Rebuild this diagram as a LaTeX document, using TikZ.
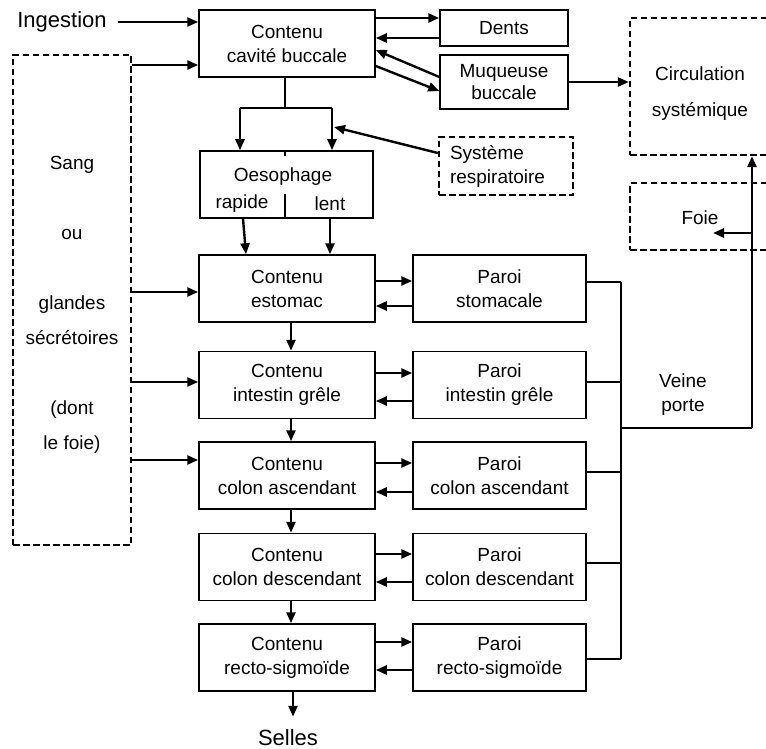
\documentclass[tikz,border=0pt]{standalone}
\usepackage{fontspec}
\setmainfont{Liberation Sans}
\usetikzlibrary{arrows.meta}
\begin{document}
\begin{tikzpicture}[x=1pt,y=-1pt,
  txt/.style={font=\fontsize{19}{24}\selectfont, align=center, inner sep=0pt},
  box/.style={txt, draw, line width=1.5pt, minimum height=67pt},
  cbox/.style={box, minimum width=176pt},
  pbox/.style={box, minimum width=173pt},
  dbox/.style={draw, line width=2.3pt, dash pattern=on 6.5pt off 3.5pt, inner sep=0pt},
  arr/.style={line width=2.4pt, -{Triangle[length=11pt,width=9pt]}},
  ln/.style={line width=1.5pt},
  big/.style={font=\fontsize{22}{26}\selectfont, inner sep=0pt}]
\useasboundingbox (0,0) rectangle (766,749);
\clip (0,0) rectangle (766,749);
\fill[white] (0,0) rectangle (766,749);

% top
\node[big] (ing) at (62,22) {Ingestion};
\node[cbox] (cav) at (287,43.5) {Contenu\\cavité buccale};
\node[box, minimum width=128pt, minimum height=36pt] (dents) at (504,28) {Dents};
\node[box, minimum width=128pt, minimum height=54pt, font=\fontsize{19}{22}\selectfont] (muq) at (504,82) {Muqueuse\\buccale};
\node[dbox, minimum width=160pt, minimum height=137pt] (circ) at (710,86.5) {};
\node[txt, font=\fontsize{19}{36}\selectfont] (circt) at (700,94) {Circulation\\systémique};
\node[dbox, txt, text width=112pt, align=left, inner xsep=11pt, minimum height=58pt] (resp) at (506,166) {Système\\respiratoire};
\node[dbox, minimum width=160pt, minimum height=67pt] (foie) at (710,216.5) {};
\node[txt] (foiet) at (700,218) {Foie};

% left
\node[dbox, minimum width=118pt, minimum height=490pt] (sang) at (72,300) {};
\node[txt, font=\fontsize{19}{35}\selectfont] (sangt) at (72,305) {Sang\\[35pt]ou\\[35pt]glandes\\sécrétoires\\[35pt](dont\\le foie)};

% oesophagus
\node[box, minimum width=173pt] (oes) at (286.5,184.5) {};
\node[txt] (oest) at (283,177) {Oesophage};
\node[txt] (rap) at (242,204) {rapide};
\node[txt] (lent) at (330,204) {lent};

% contents
\node[cbox] (c1) at (287,288.5) {Contenu\\estomac};
\node[cbox] (c2) at (287,385) {Contenu\\intestin grêle};
\node[cbox] (c3) at (287,475.5) {Contenu\\colon ascendant};
\node[cbox] (c4) at (287,567) {Contenu\\colon descendant};
\node[cbox] (c5) at (287,657.5) {Contenu\\recto-sigmoïde};

% walls
\node[pbox] (p1) at (499.5,288.5) {Paroi\\stomacale};
\node[pbox] (p2) at (499.5,385) {Paroi\\intestin grêle};
\node[pbox] (p3) at (499.5,475.5) {Paroi\\colon ascendant};
\node[pbox] (p4) at (499.5,567) {Paroi\\colon descendant};
\node[pbox] (p5) at (499.5,657.5) {Paroi\\recto-sigmoïde};

\node[txt] (vp) at (683,395) {Veine\\porte};
\node[big] (sel) at (288,738) {Selles};

% ingestion and blood
\draw[arr] ([xshift=11pt]ing.east) -- (cav.west |- ing.east);
\coordinate (a0) at ([yshift=-21.5pt]cav.west);
\coordinate (a1) at ([yshift=-3.5pt]c1.west);
\coordinate (a2) at ([yshift=3pt]c2.west);
\coordinate (a3) at ([yshift=15.5pt]c3.west);
\draw[arr] (sang.east |- a0) -- (a0);
\draw[arr] (sang.east |- a1) -- (a1);
\draw[arr] (sang.east |- a2) -- (a2);
\draw[arr] (sang.east |- a3) -- (a3);

% mouth exchanges
\coordinate (dy1) at ([yshift=10pt]dents.west);
\coordinate (dy2) at ([yshift=-10pt]dents.west);
\draw[arr] (cav.east |- dy1) -- (dy1);
\draw[arr] (dy2) -- (cav.east |- dy2);
\draw[arr] ([yshift=5pt]muq.west) -- ([yshift=-6.5pt]cav.east);
\draw[arr] ([yshift=-22.5pt]cav.east) -- ([yshift=-9pt]muq.west);
\draw[arr] (muq.east) -- (muq.east -| circ.west);

% to oesophagus
\coordinate (tj) at (285,108);
\coordinate (tl) at (240,108);
\coordinate (tr) at (332,108);
\coordinate (rb) at (334,127);
\draw[ln] (cav.south -| tj) -- (tj);
\draw[ln] (tl) -- (tr);
\draw[arr] (tl) -- (tl |- oes.north);
\draw[arr] (tr) -- (tr |- oes.north);
\draw[arr] ([yshift=13pt]resp.west) -- (rb);
\draw[ln] ([xshift=-1.5pt]oes.south) -- ([xshift=-1.5pt,yshift=25pt]oes.south);
\draw[ln] ([xshift=-1.5pt]oes.north) -- ([xshift=-1.5pt,yshift=-6pt]oes.north);
\draw[arr] ([xshift=-43.5pt]oes.south) -- ([xshift=-41pt]c1.north);
\draw[arr] ([xshift=43.5pt]oes.south) -- ([xshift=43pt]c1.north);

% down the tract
\draw[arr] ([xshift=4pt]c1.south) -- ([xshift=4pt]c2.north);
\draw[arr] ([xshift=4pt]c2.south) -- ([xshift=4pt]c3.north);
\draw[arr] ([xshift=4pt]c3.south) -- ([xshift=4pt]c4.north);
\draw[arr] ([xshift=4pt]c4.south) -- ([xshift=4pt]c5.north);
\coordinate (selin) at ([xshift=6pt,yshift=-25pt]c5.south);
\draw[arr] ([xshift=6pt]c5.south) -- (selin);

% content <-> wall
\draw[arr] ([yshift=7.5pt]c1.east) -- ([yshift=7.5pt]p1.west);
\draw[arr] ([yshift=-17.5pt]p1.west) -- ([yshift=-17.5pt]c1.east);
\draw[arr] ([yshift=12pt]c2.east) -- ([yshift=12pt]p2.west);
\draw[arr] ([yshift=-16pt]p2.west) -- ([yshift=-16pt]c2.east);
\draw[arr] ([yshift=12.5pt]c3.east) -- ([yshift=12.5pt]p3.west);
\draw[arr] ([yshift=-16.5pt]p3.west) -- ([yshift=-16.5pt]c3.east);
\draw[arr] ([yshift=13pt]c4.east) -- ([yshift=13pt]p4.west);
\draw[arr] ([yshift=-15pt]p4.west) -- ([yshift=-15pt]c4.east);
\draw[arr] ([yshift=15.5pt]c5.east) -- ([yshift=15.5pt]p5.west);
\draw[arr] ([yshift=-12.5pt]p5.west) -- ([yshift=-12.5pt]c5.east);

% portal vein
\coordinate (colx) at (621,428);
\coordinate (vc) at (752,428);
\coordinate (t1) at ([yshift=6.5pt]p1.east);
\coordinate (t2) at ([yshift=3pt]p2.east);
\coordinate (t3) at ([yshift=3.5pt]p3.east);
\coordinate (t4) at ([yshift=4pt]p4.east);
\coordinate (t5) at ([yshift=-1.5pt]p5.east);
\draw[ln] (t1) -- (t1 -| colx);
\draw[ln] (t2) -- (t2 -| colx);
\draw[ln] (t3) -- (t3 -| colx);
\draw[ln] (t4) -- (t4 -| colx);
\draw[ln] (t5) -- (t5 -| colx);
\draw[ln] (t1 -| colx) -- (t5 -| colx);
\draw[ln] (colx) -- (vc);
\draw[arr] (vc) -- (vc |- circ.south);
\coordinate (fy) at ([yshift=-16.5pt]foie.center);
\draw[arr] (vc |- fy) -- ([xshift=3pt]fy);
\end{tikzpicture}
\end{document}
